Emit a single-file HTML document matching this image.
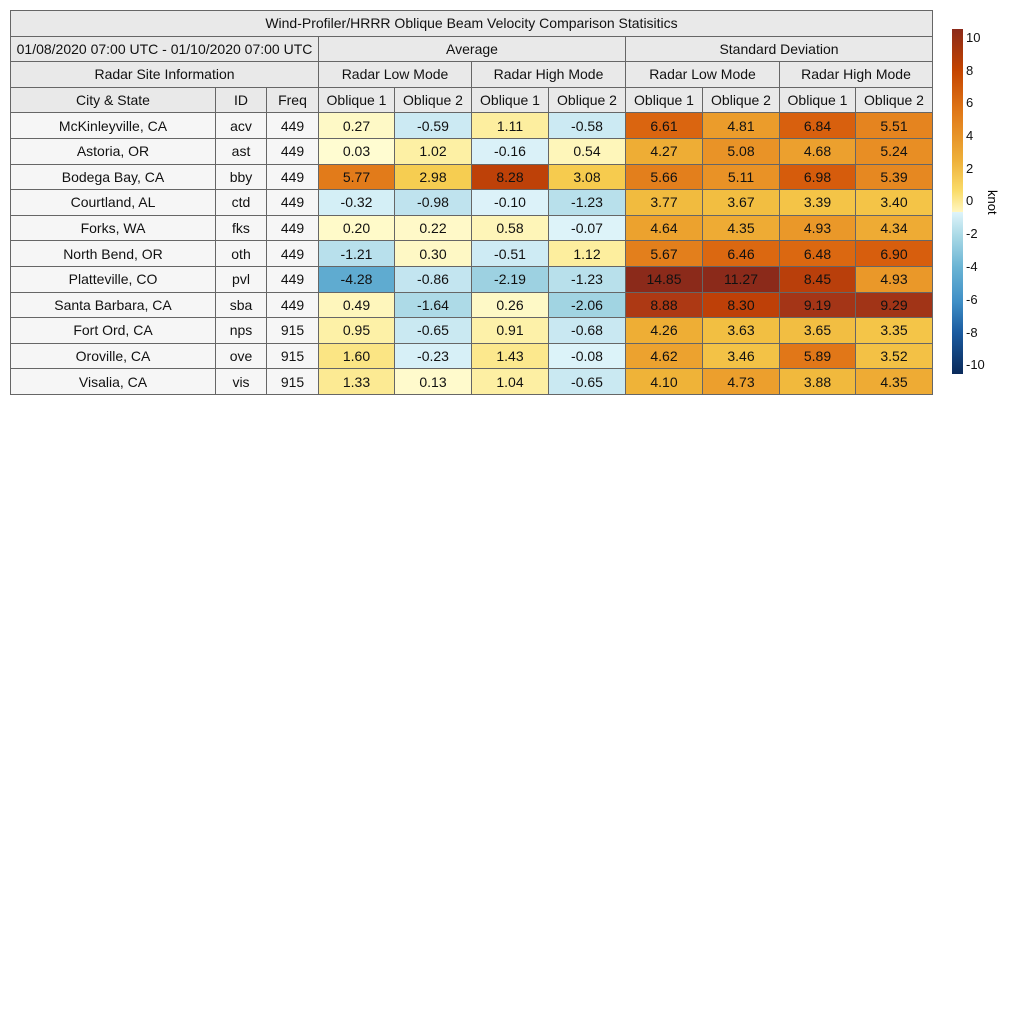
<!DOCTYPE html>
<html><head><meta charset="utf-8"><style>
body{margin:0;background:#fff;width:1024px;height:1024px;position:relative;font-family:"Liberation Sans",sans-serif;}
table{position:absolute;left:10px;top:10px;border-collapse:collapse;width:922px;table-layout:fixed;font-size:14px;color:#111}
td{border:1px solid #666;text-align:center;padding:0;height:24.6px;white-space:nowrap;overflow:hidden}
.h td{background:#e9e9e9}
.s{background:#f6f6f6}
#cb{position:absolute;left:952px;top:29px;width:11px;height:345px;background:linear-gradient(to bottom,#8b2a1a 0%,#c44400 12%,#e07818 24%,#eeb03a 38%,#fadc6a 47%,#fff6c0 53%,#fffcd8 50%,#dff4fa 50%,#a9d9e6 60%,#6ab4d4 69%,#3f8fc6 79%,#1a5ba0 88%,#0a2a5a 100%)}
.tk{position:absolute;left:966px;font-size:13px;color:#111}
</style></head><body>
<table>
<colgroup><col style="width:205px"><col style="width:51px"><col style="width:52px"><col style="width:76px"><col style="width:77px"><col style="width:77px"><col style="width:77px"><col style="width:77px"><col style="width:77px"><col style="width:76px"><col style="width:77px"></colgroup>
<tr class="h"><td colspan="11">Wind-Profiler/HRRR Oblique Beam Velocity Comparison Statisitics</td></tr>
<tr class="h"><td colspan="3">01/08/2020 07:00 UTC - 01/10/2020 07:00 UTC</td><td colspan="4">Average</td><td colspan="4">Standard Deviation</td></tr>
<tr class="h"><td colspan="3">Radar Site Information</td><td colspan="2">Radar Low Mode</td><td colspan="2">Radar High Mode</td><td colspan="2">Radar Low Mode</td><td colspan="2">Radar High Mode</td></tr>
<tr class="h"><td>City &amp; State</td><td>ID</td><td>Freq</td><td>Oblique 1</td><td>Oblique 2</td><td>Oblique 1</td><td>Oblique 2</td><td>Oblique 1</td><td>Oblique 2</td><td>Oblique 1</td><td>Oblique 2</td></tr>
<tr><td class="s">McKinleyville, CA</td><td class="s">acv</td><td class="s">449</td><td class="v">0.27</td><td class="v">-0.59</td><td class="v">1.11</td><td class="v">-0.58</td><td class="v">6.61</td><td class="v">4.81</td><td class="v">6.84</td><td class="v">5.51</td></tr>
<tr><td class="s">Astoria, OR</td><td class="s">ast</td><td class="s">449</td><td class="v">0.03</td><td class="v">1.02</td><td class="v">-0.16</td><td class="v">0.54</td><td class="v">4.27</td><td class="v">5.08</td><td class="v">4.68</td><td class="v">5.24</td></tr>
<tr><td class="s">Bodega Bay, CA</td><td class="s">bby</td><td class="s">449</td><td class="v">5.77</td><td class="v">2.98</td><td class="v">8.28</td><td class="v">3.08</td><td class="v">5.66</td><td class="v">5.11</td><td class="v">6.98</td><td class="v">5.39</td></tr>
<tr><td class="s">Courtland, AL</td><td class="s">ctd</td><td class="s">449</td><td class="v">-0.32</td><td class="v">-0.98</td><td class="v">-0.10</td><td class="v">-1.23</td><td class="v">3.77</td><td class="v">3.67</td><td class="v">3.39</td><td class="v">3.40</td></tr>
<tr><td class="s">Forks, WA</td><td class="s">fks</td><td class="s">449</td><td class="v">0.20</td><td class="v">0.22</td><td class="v">0.58</td><td class="v">-0.07</td><td class="v">4.64</td><td class="v">4.35</td><td class="v">4.93</td><td class="v">4.34</td></tr>
<tr><td class="s">North Bend, OR</td><td class="s">oth</td><td class="s">449</td><td class="v">-1.21</td><td class="v">0.30</td><td class="v">-0.51</td><td class="v">1.12</td><td class="v">5.67</td><td class="v">6.46</td><td class="v">6.48</td><td class="v">6.90</td></tr>
<tr><td class="s">Platteville, CO</td><td class="s">pvl</td><td class="s">449</td><td class="v">-4.28</td><td class="v">-0.86</td><td class="v">-2.19</td><td class="v">-1.23</td><td class="v">14.85</td><td class="v">11.27</td><td class="v">8.45</td><td class="v">4.93</td></tr>
<tr><td class="s">Santa Barbara, CA</td><td class="s">sba</td><td class="s">449</td><td class="v">0.49</td><td class="v">-1.64</td><td class="v">0.26</td><td class="v">-2.06</td><td class="v">8.88</td><td class="v">8.30</td><td class="v">9.19</td><td class="v">9.29</td></tr>
<tr><td class="s">Fort Ord, CA</td><td class="s">nps</td><td class="s">915</td><td class="v">0.95</td><td class="v">-0.65</td><td class="v">0.91</td><td class="v">-0.68</td><td class="v">4.26</td><td class="v">3.63</td><td class="v">3.65</td><td class="v">3.35</td></tr>
<tr><td class="s">Oroville, CA</td><td class="s">ove</td><td class="s">915</td><td class="v">1.60</td><td class="v">-0.23</td><td class="v">1.43</td><td class="v">-0.08</td><td class="v">4.62</td><td class="v">3.46</td><td class="v">5.89</td><td class="v">3.52</td></tr>
<tr><td class="s">Visalia, CA</td><td class="s">vis</td><td class="s">915</td><td class="v">1.33</td><td class="v">0.13</td><td class="v">1.04</td><td class="v">-0.65</td><td class="v">4.10</td><td class="v">4.73</td><td class="v">3.88</td><td class="v">4.35</td></tr>
</table>
<div id="cb"></div>
<div class="tk" style="top:30px">10</div>
<div class="tk" style="top:63px">8</div>
<div class="tk" style="top:95px">6</div>
<div class="tk" style="top:128px">4</div>
<div class="tk" style="top:161px">2</div>
<div class="tk" style="top:193px">0</div>
<div class="tk" style="top:226px">-2</div>
<div class="tk" style="top:259px">-4</div>
<div class="tk" style="top:292px">-6</div>
<div class="tk" style="top:325px">-8</div>
<div class="tk" style="top:357px">-10</div>
<div style="position:absolute;top:190px;font-size:13px;transform:rotate(90deg);transform-origin:0 0;left:1000px">knot</div>
<script>
var P=[[-10,[10,42,90]],[-8,[26,91,160]],[-6,[63,143,198]],[-4,[100,175,210]],[-2,[163,213,227]],[-1,[190,227,238]],[0,[223,244,250]],[0.001,[255,252,210]],[1,[253,240,165]],[2,[250,222,110]],[3,[246,205,80]],[4,[240,182,58]],[5,[234,150,40]],[6,[224,115,22]],[7,[214,92,12]],[8,[198,68,2]],[9,[170,56,22]],[10,[139,42,26]]];
function col(v){if(v<=-10)return P[0][1];if(v>=10)return P[P.length-1][1];for(var i=0;i<P.length-1;i++){var a=P[i],b=P[i+1];if(v>=a[0]&&v<=b[0]){var t=(v-a[0])/(b[0]-a[0]);return a[1].map(function(x,k){return Math.round(x+(b[1][k]-x)*t)})}}return[255,255,255]}
document.querySelectorAll('.v').forEach(function(e){var c=col(parseFloat(e.textContent));e.style.background='rgb('+c.join(',')+')';});
</script>
</body></html>
